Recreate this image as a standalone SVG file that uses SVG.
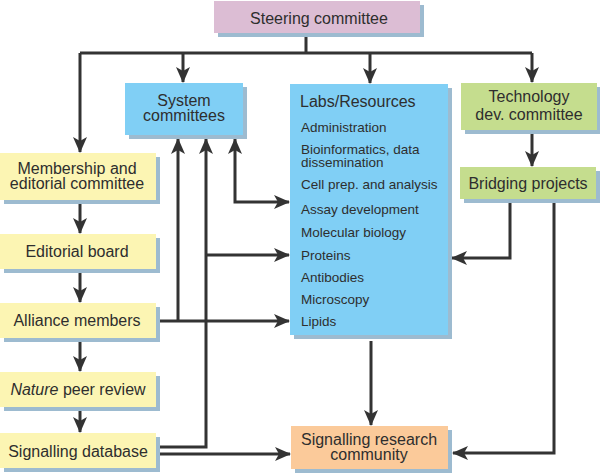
<svg xmlns="http://www.w3.org/2000/svg" width="600" height="473" viewBox="0 0 600 473">
<defs>
<style>
.sh{fill:#9dbbd0}
.pink{fill:#dcbdd4}
.blue{fill:#80cff5}
.green{fill:#c5dd8e}
.yellow{fill:#fcf5b3}
.peach{fill:#fbca9a}
text{font-family:"Liberation Sans",Arial,sans-serif;fill:#2e2e2e;font-size:16px}
.c{text-anchor:middle}
.it{font-size:13.5px}
.ln{fill:none;stroke:#333;stroke-width:3}
.ar{marker-end:url(#ah)}
</style>
<marker id="ah" viewBox="0 0 16 14" refX="15" refY="7" markerWidth="16" markerHeight="14" markerUnits="userSpaceOnUse" orient="auto-start-reverse">
<path d="M0,0 L16,7 L0,14 L4,7 Z" fill="#333"/>
</marker>
</defs>
<g id="connectors">
<path class="ln" d="M306,37 V53 M80,53 H532"/>
<path class="ln ar" d="M80,53 V152"/>
<path class="ln ar" d="M183,53 V82"/>
<path class="ln ar" d="M370,53 V83"/>
<path class="ln ar" d="M532,53 V82"/>
<path class="ln ar" d="M80,204 V233"/>
<path class="ln ar" d="M80,273 V302"/>
<path class="ln ar" d="M80,342 V371"/>
<path class="ln ar" d="M80,411 V432"/>
<path class="ln ar" d="M178,321 V139"/>
<path class="ln ar" d="M158,447 H206 V139"/>
<path class="ln ar" d="M235,139 V202 H289" style="marker-start:url(#ah)"/>
<path class="ln ar" d="M206,255 H289"/>
<path class="ln ar" d="M158,321 H289"/>
<path class="ln ar" d="M158,454 H290"/>
<path class="ln ar" d="M532,134 V166"/>
<path class="ln ar" d="M510,203 V258 H452"/>
<path class="ln ar" d="M554,203 V453 H453"/>
<path class="ln ar" d="M371,341 V425"/>
</g>
<g id="steering">
<rect class="sh" x="218" y="5" width="206" height="32"/>
<rect class="pink" x="214" y="1" width="206" height="32"/>
<text class="c" x="319" y="24">Steering committee</text>
</g>
<g id="system">
<rect class="sh" x="129" y="87" width="118" height="52"/>
<rect class="blue" x="125" y="83" width="118" height="52"/>
<text class="c" x="184" y="106">System</text>
<text class="c" x="184" y="121">committees</text>
</g>
<g id="labs">
<rect class="sh" x="294" y="88" width="158" height="251"/>
<rect class="blue" x="290" y="84" width="158" height="251"/>
<text x="300" y="107">Labs/Resources</text>
<text class="it" x="301" y="132">Administration</text>
<text class="it" x="301" y="154">Bioinformatics, data</text>
<text class="it" x="301" y="167">dissemination</text>
<text class="it" x="301" y="189">Cell prep. and analysis</text>
<text class="it" x="301" y="214">Assay development</text>
<text class="it" x="301" y="237">Molecular biology</text>
<text class="it" x="301" y="260">Proteins</text>
<text class="it" x="301" y="282">Antibodies</text>
<text class="it" x="301" y="304">Microscopy</text>
<text class="it" x="301" y="326">Lipids</text>
</g>
<g id="tech">
<rect class="sh" x="465" y="87" width="136" height="47"/>
<rect class="green" x="461" y="83" width="136" height="47"/>
<text class="c" x="529" y="102">Technology</text>
<text class="c" x="529" y="120">dev. committee</text>
</g>
<g id="bridging">
<rect class="sh" x="464" y="171" width="136" height="32"/>
<rect class="green" x="460" y="167" width="136" height="32"/>
<text class="c" x="528" y="189">Bridging projects</text>
</g>
<g id="membership">
<rect class="sh" x="4" y="157" width="156" height="47"/>
<rect class="yellow" x="0" y="153" width="156" height="47"/>
<text class="c" x="77" y="174">Membership and</text>
<text class="c" x="77" y="189">editorial committee</text>
</g>
<g id="editorial">
<rect class="sh" x="4" y="238" width="156" height="35"/>
<rect class="yellow" x="0" y="234" width="156" height="35"/>
<text class="c" x="77" y="257">Editorial board</text>
</g>
<g id="alliance">
<rect class="sh" x="4" y="307" width="156" height="35"/>
<rect class="yellow" x="0" y="303" width="156" height="35"/>
<text class="c" x="77" y="326">Alliance members</text>
</g>
<g id="nature">
<rect class="sh" x="4" y="376" width="156" height="35"/>
<rect class="yellow" x="0" y="372" width="156" height="35"/>
<text class="c" x="78" y="395"><tspan font-style="italic">Nature</tspan> peer review</text>
</g>
<g id="database">
<rect class="sh" x="4" y="437" width="156" height="35"/>
<rect class="yellow" x="0" y="433" width="156" height="35"/>
<text class="c" x="78" y="457">Signalling database</text>
</g>
<g id="research">
<rect class="sh" x="295" y="430" width="157" height="43"/>
<rect class="peach" x="291" y="426" width="157" height="43"/>
<text class="c" x="369" y="445">Signalling research</text>
<text class="c" x="369" y="460">community</text>
</g>
</svg>
